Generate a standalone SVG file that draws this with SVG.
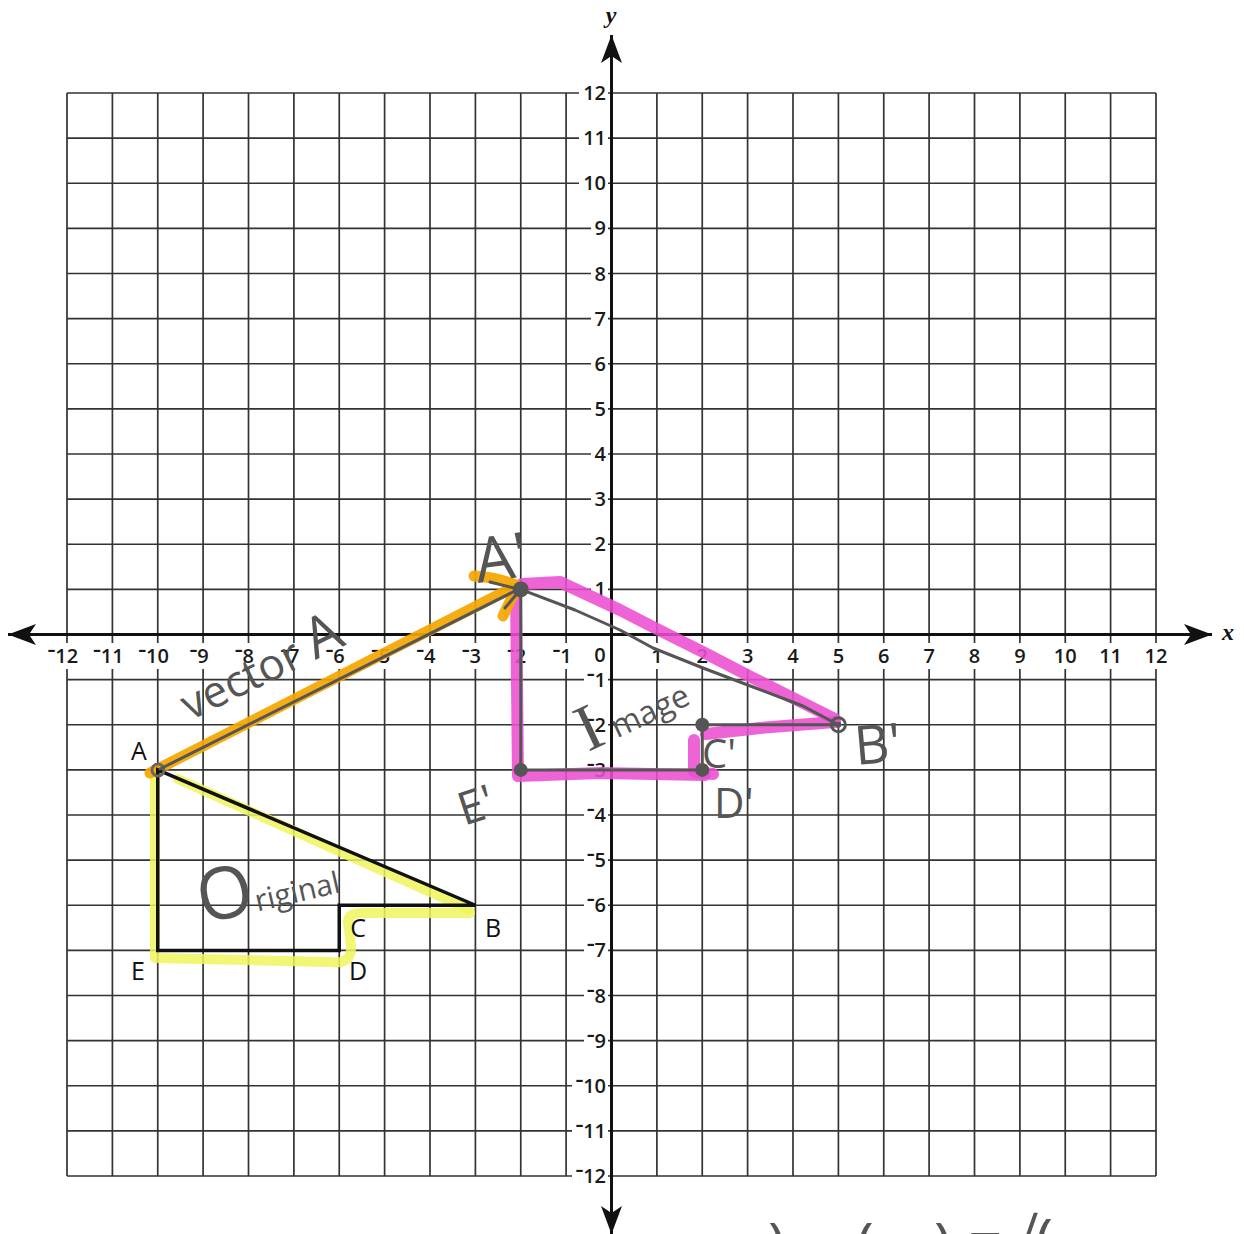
<svg xmlns="http://www.w3.org/2000/svg" width="1244" height="1234" viewBox="0 0 1244 1234">
<defs>
<marker id="ah" viewBox="0 -11 30 22" refX="28" refY="0" markerWidth="30" markerHeight="22" markerUnits="userSpaceOnUse" orient="auto-start-reverse">
<path d="M28,0 L0,-10.5 L7,0 L0,10.5 Z" fill="#111"/>
</marker>
</defs>
<style>
.grid{stroke:#333;stroke-width:1.7;fill:none}
.axis{stroke:#111;stroke-width:3;fill:none}
.bg{fill:#fff}
.tick{font-family:"Open Sans","Liberation Sans",sans-serif;font-weight:600;font-size:20px;fill:#1a1a1a}
.tx{text-anchor:middle}
.ty{text-anchor:end}
.mn{font-size:15px;font-weight:800}
.axlab{font-family:"Liberation Serif",serif;font-style:italic;font-weight:bold;font-size:24px;fill:#111}
.lab{font-family:"Open Sans","Liberation Sans",sans-serif;font-size:25px;fill:#111;text-anchor:middle}
.hand{font-family:"Open Sans","DejaVu Sans",sans-serif;font-weight:400;fill:#555}
.pencil{stroke:#555;stroke-width:3;fill:none;stroke-linecap:round;stroke-linejoin:round}
.pink{stroke:#ec4fd2;stroke-width:12;fill:none;stroke-linecap:round;stroke-linejoin:round;opacity:0.88}
.yellow{stroke:#eef45c;stroke-width:10;fill:none;stroke-linecap:round;stroke-linejoin:round;opacity:0.85}
.orange{stroke:#f5a600;stroke-width:11;fill:none;stroke-linecap:round;stroke-linejoin:round;opacity:0.92}
.dot{fill:#555}
</style>
<rect width="1244" height="1234" fill="#fff"/>

<g id="grid">
<path class="grid" d="M67,93V1176 M112.4,93V1176 M157.75,93V1176 M203.1,93V1176 M248.5,93V1176 M293.9,93V1176 M339.25,93V1176 M384.6,93V1176 M430,93V1176 M475.4,93V1176 M520.75,93V1176 M566.1,93V1176 M656.9,93V1176 M702.25,93V1176 M747.6,93V1176 M793,93V1176 M838.4,93V1176 M883.75,93V1176 M929.1,93V1176 M974.5,93V1176 M1019.9,93V1176 M1065.25,93V1176 M1110.6,93V1176 M1156,93V1176"/>
<path class="grid" d="M67,93H1156 M67,138.1H1156 M67,183.25H1156 M67,228.4H1156 M67,273.5H1156 M67,318.6H1156 M67,363.75H1156 M67,408.9H1156 M67,454H1156 M67,499.1H1156 M67,544.25H1156 M67,589.4H1156 M67,679.6H1156 M67,724.75H1156 M67,769.9H1156 M67,815H1156 M67,860.1H1156 M67,905.25H1156 M67,950.4H1156 M67,995.5H1156 M67,1040.6H1156 M67,1085.75H1156 M67,1130.9H1156 M67,1176H1156"/>
</g>

<g id="label-bg" class="bg">
<rect x="40" y="643" width="1145" height="26"/>
<rect x="579" y="83" width="29" height="20"/>
<rect x="579" y="128.1" width="29" height="20"/>
<rect x="579" y="173.25" width="29" height="20"/>
<rect x="591" y="218.4" width="17" height="20"/>
<rect x="591" y="263.5" width="17" height="20"/>
<rect x="591" y="308.6" width="17" height="20"/>
<rect x="591" y="353.75" width="17" height="20"/>
<rect x="591" y="398.9" width="17" height="20"/>
<rect x="591" y="444" width="17" height="20"/>
<rect x="591" y="489.1" width="17" height="20"/>
<rect x="591" y="534.25" width="17" height="20"/>
<rect x="591" y="579.4" width="17" height="20"/>
<rect x="584" y="669.6" width="24" height="20"/>
<rect x="584" y="714.75" width="24" height="20"/>
<rect x="584" y="759.9" width="24" height="20"/>
<rect x="584" y="805" width="24" height="20"/>
<rect x="584" y="850.1" width="24" height="20"/>
<rect x="584" y="895.25" width="24" height="20"/>
<rect x="584" y="940.4" width="24" height="20"/>
<rect x="584" y="985.5" width="24" height="20"/>
<rect x="584" y="1030.6" width="24" height="20"/>
<rect x="572" y="1075.75" width="36" height="20"/>
<rect x="572" y="1120.9" width="36" height="20"/>
<rect x="572" y="1166" width="36" height="20"/>
</g>

<g id="x-ticks" class="tick tx">
<text x="63" y="663"><tspan class="mn" dy="-8">–</tspan><tspan dy="8">12</tspan></text>
<text x="108.4" y="663"><tspan class="mn" dy="-8">–</tspan><tspan dy="8">11</tspan></text>
<text x="153.75" y="663"><tspan class="mn" dy="-8">–</tspan><tspan dy="8">10</tspan></text>
<text x="199.1" y="663"><tspan class="mn" dy="-8">–</tspan><tspan dy="8">9</tspan></text>
<text x="244.5" y="663"><tspan class="mn" dy="-8">–</tspan><tspan dy="8">8</tspan></text>
<text x="289.9" y="663"><tspan class="mn" dy="-8">–</tspan><tspan dy="8">7</tspan></text>
<text x="335.25" y="663"><tspan class="mn" dy="-8">–</tspan><tspan dy="8">6</tspan></text>
<text x="380.6" y="663"><tspan class="mn" dy="-8">–</tspan><tspan dy="8">5</tspan></text>
<text x="426" y="663"><tspan class="mn" dy="-8">–</tspan><tspan dy="8">4</tspan></text>
<text x="471.4" y="663"><tspan class="mn" dy="-8">–</tspan><tspan dy="8">3</tspan></text>
<text x="516.75" y="663"><tspan class="mn" dy="-8">–</tspan><tspan dy="8">2</tspan></text>
<text x="562.1" y="663"><tspan class="mn" dy="-8">–</tspan><tspan dy="8">1</tspan></text>
<text x="600" y="662">0</text>
<text x="656.9" y="663">1</text>
<text x="702.25" y="663">2</text>
<text x="747.6" y="663">3</text>
<text x="793" y="663">4</text>
<text x="838.4" y="663">5</text>
<text x="883.75" y="663">6</text>
<text x="929.1" y="663">7</text>
<text x="974.5" y="663">8</text>
<text x="1019.9" y="663">9</text>
<text x="1065.25" y="663">10</text>
<text x="1110.6" y="663">11</text>
<text x="1156" y="663">12</text>
</g>

<g id="y-ticks" class="tick ty">
<text x="606" y="100">12</text>
<text x="606" y="145.1">11</text>
<text x="606" y="190.25">10</text>
<text x="606" y="235.4">9</text>
<text x="606" y="280.5">8</text>
<text x="606" y="325.6">7</text>
<text x="606" y="370.75">6</text>
<text x="606" y="415.9">5</text>
<text x="606" y="461">4</text>
<text x="606" y="506.1">3</text>
<text x="606" y="551.25">2</text>
<text x="606" y="596.4">1</text>
<text x="606" y="686.6"><tspan class="mn" dy="-8">–</tspan><tspan dy="8">1</tspan></text>
<text x="606" y="731.75"><tspan class="mn" dy="-8">–</tspan><tspan dy="8">2</tspan></text>
<text x="606" y="776.9"><tspan class="mn" dy="-8">–</tspan><tspan dy="8">3</tspan></text>
<text x="606" y="822"><tspan class="mn" dy="-8">–</tspan><tspan dy="8">4</tspan></text>
<text x="606" y="867.1"><tspan class="mn" dy="-8">–</tspan><tspan dy="8">5</tspan></text>
<text x="606" y="912.25"><tspan class="mn" dy="-8">–</tspan><tspan dy="8">6</tspan></text>
<text x="606" y="957.4"><tspan class="mn" dy="-8">–</tspan><tspan dy="8">7</tspan></text>
<text x="606" y="1002.5"><tspan class="mn" dy="-8">–</tspan><tspan dy="8">8</tspan></text>
<text x="606" y="1047.6"><tspan class="mn" dy="-8">–</tspan><tspan dy="8">9</tspan></text>
<text x="606" y="1092.75"><tspan class="mn" dy="-8">–</tspan><tspan dy="8">10</tspan></text>
<text x="606" y="1137.9"><tspan class="mn" dy="-8">–</tspan><tspan dy="8">11</tspan></text>
<text x="606" y="1183"><tspan class="mn" dy="-8">–</tspan><tspan dy="8">12</tspan></text>
</g>

<g id="axes">
<line class="axis" x1="8" y1="634.5" x2="1212" y2="634.5" marker-start="url(#ah)" marker-end="url(#ah)"/>
<line class="axis" x1="611.5" y1="35" x2="611.5" y2="1234" marker-start="url(#ah)" marker-end="url(#ah)"/>
<text class="axlab" x="1228" y="640" text-anchor="middle">x</text>
<text class="axlab" x="611" y="23" text-anchor="middle">y</text>
</g>

<g id="highlights">
<path class="yellow" d="M178,779 L468,909"/>
<path class="yellow" d="M155,773 L155,958 L330,962 Q352,965 351,946 L348,922 Q348,913 362,913 L470,913"/>
<path class="pink" d="M522,584 L560,582 L620,610 L653,627 L703,652 L753,678 L803,703 L835,719"/>
<path class="pink" d="M835,722 L760,728 L706,734"/>
<path class="pink" d="M694,740 L694,772 L713,774" stroke-width="17"/>
<path class="pink" d="M705,775 L600,773 L518,776 L516,592"/>
<path class="orange" d="M150,773 L512,588"/>
<path class="orange" d="M474,576 Q496,577 516,585" stroke-width="10"/>
<path class="orange" d="M503,616 L514,593" stroke-width="8"/>
</g>

<g id="original-figure">
<path d="M157.75,769.9 L475.4,905.25 L339.25,905.25 L339.25,950.4 L157.75,950.4 Z" fill="none" stroke="#111" stroke-width="3.5" stroke-linejoin="miter"/>
<circle cx="158" cy="770" r="6" fill="none" stroke="#666" stroke-width="3"/>
</g>
<g id="original-labels">
<text class="lab" x="139" y="760">A</text>
<text class="lab" x="493" y="937">B</text>
<text class="lab" x="358" y="937">C</text>
<text class="lab" x="358" y="980">D</text>
<text class="lab" x="138" y="980">E</text>
</g>

<g id="vector">
<path class="pencil" d="M160,769 L517,590" stroke="#666" stroke-width="2"/>
<path class="pencil" d="M490,582 L518,589 M505,608 L520,590" stroke-width="4"/>
</g>

<g id="image-figure">
<path class="pencil" d="M520.75,589.4 L575,610 L620,630 L653,648 L703,668 L753,687 L803,706 L838.4,724.75 L702.25,724.75 L702.25,769.9 L520.75,769.9 Z"/>
<circle class="dot" cx="520.75" cy="589.4" r="8"/>
<circle cx="838.4" cy="724.75" r="7" fill="none" stroke="#555" stroke-width="3"/>
<circle class="dot" cx="838.4" cy="724.75" r="3"/>
<circle class="dot" cx="702.25" cy="724.75" r="7"/>
<circle class="dot" cx="702.25" cy="769.9" r="7"/>
<circle class="dot" cx="520.75" cy="769.9" r="7"/>
</g>

<g id="handwriting" class="hand">
<text transform="translate(478,583) rotate(-8)" font-size="62">A'</text>
<text transform="translate(856,765) rotate(-5)" font-size="54">B'</text>
<text x="702" y="768" font-size="40">C'</text>
<text x="714" y="818" font-size="42">D'</text>
<text transform="translate(464,826) rotate(-18)" font-size="46">E'</text>
<text transform="translate(190,721) rotate(-26)" font-size="44">vector <tspan font-size="56">A</tspan></text>
<text transform="translate(588,752) rotate(-25)" font-size="32"><tspan font-family="Liberation Serif,serif" font-size="66">I</tspan><tspan dx="10">mage</tspan></text>
<text transform="translate(203,924) rotate(-13)" font-size="30"><tspan font-size="72">O</tspan>riginal</text>
<text x="768" y="1266" font-size="60">)</text>
<text x="856" y="1266" font-size="60">(</text>
<text x="934" y="1266" font-size="60">)</text>
<text x="968" y="1262" font-size="60">=√(</text>
</g>
</svg>
